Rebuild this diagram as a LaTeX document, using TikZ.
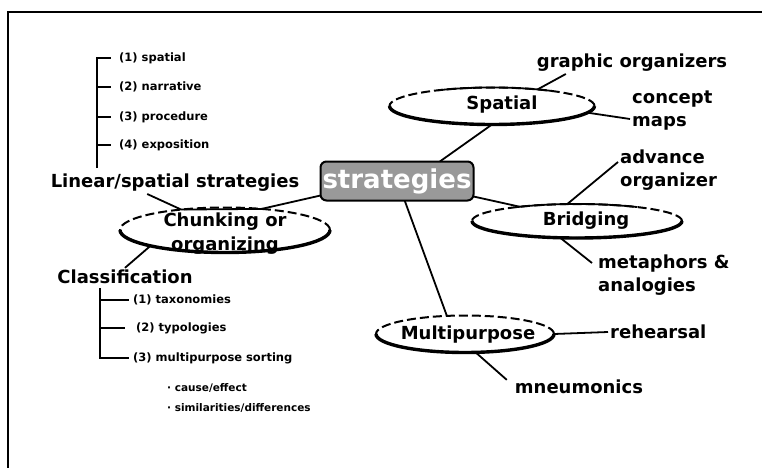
\documentclass[tikz,border=0pt]{standalone}
\usepackage{fontspec}
\setmainfont{DejaVu Sans}
\usetikzlibrary{shapes.geometric,calc}
\tikzset{
  lab/.style={font=\fontsize{18}{23}\selectfont\bfseries, inner sep=2pt},
  sm/.style={font=\fontsize{11.5}{13}\selectfont\bfseries, inner sep=2pt, anchor=west},
  smb/.style={font=\fontsize{10.5}{12}\selectfont\bfseries, inner sep=2pt, anchor=west},
  ell/.style={ellipse, draw, dash pattern=on 9pt off 4pt, line width=2pt, inner sep=0pt, outer sep=0pt},
  etxt/.style={font=\fontsize{18}{24}\selectfont\bfseries, align=center, inner sep=0pt},
  bot/.style={line width=3.4pt},
  conn/.style={line width=1.8pt},
  frame/.style={line width=2.8pt}
}
\begin{document}
\begin{tikzpicture}[x=1pt,y=-1pt]
\useasboundingbox (0,0) rectangle (762,468);
% frame
\coordinate (fa) at (8,12);
\coordinate (fb) at (762,12);
\coordinate (fc) at (8,468);
\draw[frame] (fb) -- (fa) -- (fc);

% centre box
\node[draw, line width=2pt, rounded corners=6pt, fill=black!40, text=white,
  minimum width=153pt, minimum height=39pt, inner sep=0pt, outer sep=0pt,
  font=\fontsize{26}{30}\selectfont\bfseries] (st) at (397,181) {strategies};

% ellipses
\node[ell, minimum width=205pt, minimum height=37pt] (sp) at (492,106) {};
\draw[bot] (sp.west) arc[start angle=180, end angle=360, x radius=102.5pt, y radius=18.5pt];
\node[etxt] (spt) at (502,105) {Spatial};
\node[ell, minimum width=210pt, minimum height=34pt] (br) at (577,221) {};
\draw[bot] (br.west) arc[start angle=180, end angle=360, x radius=105pt, y radius=17pt];
\node[etxt] (brt) at (586,221) {Bridging};
\node[ell, minimum width=178pt, minimum height=37pt] (mp) at (465,334) {};
\draw[bot] (mp.west) arc[start angle=180, end angle=360, x radius=89pt, y radius=18.5pt];
\node[etxt] (mpt) at (468,335) {Multipurpose};
\node[ell, minimum width=210pt, minimum height=45pt] (ch) at (225,230) {};
\draw[bot] (ch.west) arc[start angle=180, end angle=360, x radius=105pt, y radius=22.5pt];
\node[etxt] (cht) at (225,234) {Chunking or\\organizing};

% solid tops
\draw[conn] ([shift={(122:102.5pt and 18.5pt)}]sp.center) arc[start angle=122, end angle=54, x radius=102.5pt, y radius=18.5pt];
\draw[conn] ([shift={(125:105pt and 17pt)}]br.center) arc[start angle=125, end angle=55, x radius=105pt, y radius=17pt];

% right labels
\node[lab] (gr) at (632,63) {graphic organizers};
\node[lab, align=left, anchor=west] (cm) at (630,111) {concept\\maps};
\node[lab, align=left, anchor=west] (ad) at (618,170) {advance\\organizer};
\node[lab, align=left, anchor=west] (mt) at (596,275) {metaphors \&\\analogies};
\node[lab, anchor=west] (re) at (608,332) {rehearsal};
\node[lab] (mn) at (579,387) {mneumonics};

% left labels
\node[lab] (ls) at (175,183) {Linear/spatial strategies};
\node[lab] (cl) at (125,277) {Classification};

% bracket 1
\node[sm] (l1) at (117,58) {(1) spatial};
\node[sm] (l2) at (117,87) {(2) narrative};
\node[sm] (l3) at (117,117) {(3) procedure};
\node[sm] (l4) at (117,145) {(4) exposition};
\coordinate (b1) at (97,168);
\draw[conn, shorten >=6pt] (b1) |- (l1.west);
\draw[conn, shorten >=6pt] (l2.west -| b1) -- (l2.west);
\draw[conn, shorten >=6pt] (l3.west -| b1) -- (l3.west);
\draw[conn, shorten >=6pt] (l4.west -| b1) -- (l4.west);

% bracket 2
\node[sm] (c1) at (131,300) {(1) taxonomies};
\node[sm] (c2) at (134,328) {(2) typologies};
\node[sm] (c3) at (131,358) {(3) multipurpose sorting};
\coordinate (b2) at (100,288);
\draw[conn, shorten >=2pt] (b2) |- (c3.west);
\draw[conn, shorten >=2pt] (c1.west -| b2) -- (c1.west);
\draw[conn, shorten >=9pt] (c2.west -| b2) -- (c2.west);

\node[smb] (d1) at (165,388) {· cause/effect};
\node[smb] (d2) at (165,408) {· similarities/differences};

% connectors
\draw[conn] (sp.south) -- ($(st.north west)!0.78!(st.north east)$);
\draw[conn] (sp.20) -- ($(gr.south west)!0.16!(gr.south east)$);
\draw[conn] (sp.-4) -- ($(cm.west)+(0,8)$);
\draw[conn] (br.120) -- ($(ad.west)+(0,-8)$);
\draw[conn] ($(st.south east)+(0,-4)$) -- (br.166);
\draw[conn] (br.225) -- ($(mt.west)+(-4,-12)$);
\draw[conn] ($(st.south west)!0.55!(st.south east)$) -- (mp.135);
\draw[conn] (mp.east) -- (re.west);
\draw[conn] (mp.-60) -- ($(mn.north west)+(-6,2)$);
\draw[conn] ($(ls.south west)!0.39!(ls.south east)$) -- (ch.155) -- (ch.30) -- ($(st.south west)+(0,-5)$);
\draw[conn] (ch.192) -- (cl.north);
\end{tikzpicture}
\end{document}
